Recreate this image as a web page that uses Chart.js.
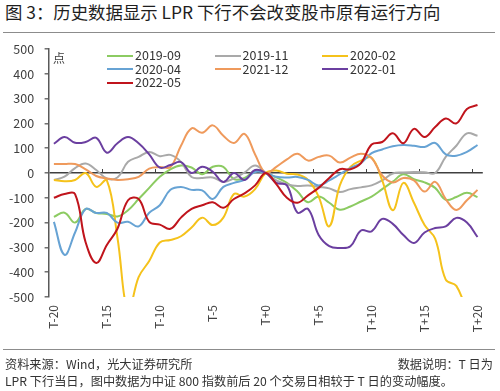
<!DOCTYPE html>
<html>
<head>
<meta charset="utf-8">
<script src="https://cdn.jsdelivr.net/npm/chart.js@4.4.1/dist/chart.umd.min.js"></script>
<style>
  html, body { margin: 0; padding: 0; background: #fff; }
  #wrap { position: relative; width: 500px; height: 391px; overflow: hidden;
          font-family: "Noto Sans CJK SC", "Noto Sans", sans-serif; color: #333; }
  #title { position: absolute; left: 5px; top: 0; font-size: 17.4px; line-height: 24px; color: #1e1e1e; white-space: nowrap; }
  .rule { position: absolute; left: 3px; width: 492px; height: 0; border-top: 1.5px solid #8c8c8c; }
  #chart { position: absolute; left: 0; top: 0; }
  #unit { position: absolute; left: 53px; top: 50px; font-size: 12px; line-height: 16px; color: #404040; }
  .leg { position: absolute; height: 14px; font-size: 12.5px; line-height: 14px; color: #333; white-space: nowrap; }
  .leg span { display: inline-block; width: 26px; height: 2px; vertical-align: middle; margin-right: 2px; position: relative; top: -1px; }
  .foot { position: absolute; font-size: 12.2px; line-height: 17px; color: #333; white-space: nowrap; }
</style>
</head>
<body>
<div id="wrap">
  <div id="title">图 3：历史数据显示 LPR 下行不会改变股市原有运行方向</div>
  <div class="rule" style="top:32px"></div>
  <canvas id="chart" width="500" height="391"></canvas>
  <div id="unit">点</div>
  <div id="legend"></div>
  <div class="rule" style="top:349px"></div>
  <div class="foot" style="left:5px; top:356px">资料来源：Wind，光大证券研究所</div>
  <div class="foot" style="right:7px; top:356px">数据说明：T 日为</div>
  <div class="foot" style="left:5px; top:373px">LPR 下行当日，图中数据为中证 800 指数前后 20 个交易日相较于 T 日的变动幅度。</div>
</div>
<script>
// DATA
const dayLabels = ['T-20','T-19','T-18','T-17','T-16','T-15','T-14','T-13','T-12','T-11',
  'T-10','T-9','T-8','T-7','T-6','T-5','T-4','T-3','T-2','T-1','T+0',
  'T+1','T+2','T+3','T+4','T+5','T+6','T+7','T+8','T+9','T+10',
  'T+11','T+12','T+13','T+14','T+15','T+16','T+17','T+18','T+19','T+20'];

const seriesNames = ['2019-09', '2019-11', '2020-02', '2020-04', '2021-12', '2022-01', '2022-05'];

const s201909 = [-177,-160,-200,-145,-161,-165,-175,-150,-105,-60,-15,15,30,22,-5,25,25,-25,-20,8,0,
  -18,-40,-75,-118,-95,-120,-148,-135,-115,-95,-65,-35,-5,-25,-38,-60,-108,-97,-80,-97];
const s201911 = [-28,-15,20,38,12,-22,-18,45,65,85,68,73,45,-16,-20,-18,-36,-22,2,30,0,
  -30,-45,-52,-50,-56,-62,-77,-65,-58,-50,-30,-2,2,4,3,0,65,110,160,150];
const s202002 = [-28,-33,-28,0,-56,-30,-260,-560,-420,-355,-280,-270,-255,-220,-180,-210,-180,-85,-95,-65,0,
  10,-3,-6,-28,-95,-215,-50,25,50,62,-30,-150,-40,-120,-210,-265,-430,-455,-560,null];
const s202004 = [-197,-330,-240,-145,-161,-161,-200,-197,-215,-160,-130,-68,-56,-68,-70,-105,-56,-40,-28,4,0,
  -15,-18,-16,-28,-50,-30,-5,20,40,80,95,108,113,110,105,121,75,70,85,113];
const s202112 = [36,36,36,15,-12,-22,-28,-25,-16,18,24,24,110,180,162,192,150,121,158,75,0,
  25,55,78,50,65,70,42,62,78,60,-10,-38,-20,-30,-75,-36,-105,-149,-110,-68];
const s202201 = [118,145,122,125,142,82,120,145,120,75,22,32,44,0,25,5,-36,0,-28,12,0,
  -40,-50,-160,-145,-250,-295,-302,-295,-232,-235,-185,-205,-250,-282,-240,-222,-215,-181,-200,-258];
const s202205 = [-100,-85,-85,-280,-363,-290,-225,-110,-105,-197,-208,-225,-180,-145,-130,-118,-140,-105,-82,-50,0,
  -45,-100,-120,-90,-60,-20,15,15,40,115,125,160,120,178,145,185,220,200,258,274];

const seriesData = [s201909, s201911, s202002, s202004, s202112, s202201, s202205];
const seriesColors = ['#8ccb62', '#a9a9a9', '#f5c21b', '#67a3d4', '#ef9a5c', '#6b3fa0', '#c0141c'];

const FONT = '"Noto Sans CJK SC", "Noto Sans", sans-serif';

// LEGEND (three columns, like the source)
const legendBox = document.getElementById('legend');
seriesNames.forEach((name, i) => {
  const el = document.createElement('div');
  el.className = 'leg';
  el.style.left = (107 + (i % 3) * 107.5) + 'px';
  el.style.top = (48 + Math.floor(i / 3) * 13.7) + 'px';
  el.innerHTML = '<span style="background:' + seriesColors[i] + '"></span>' + name;
  legendBox.appendChild(el);
});

// small tick marks on the zero line, one every 5 trading days
const zeroAxisTicks = {
  id: 'zeroAxisTicks',
  beforeDatasetsDraw(chart) {
    const {ctx, scales: {x, y}} = chart;
    const y0 = y.getPixelForValue(0);
    ctx.save();
    ctx.strokeStyle = '#404040';
    ctx.lineWidth = 1;
    for (let i = 5; i < dayLabels.length; i += 5) {
      const px = Math.round(x.getPixelForValue(i - 0.5)) + 0.5;
      ctx.beginPath();
      ctx.moveTo(px, y0);
      ctx.lineTo(px, y0 - 4);
      ctx.stroke();
    }
    ctx.restore();
  }
};

new Chart(document.getElementById('chart').getContext('2d'), {
  type: 'line',
  data: {
    labels: dayLabels,
    datasets: seriesNames.map((name, i) => ({
      label: name,
      data: seriesData[i],
      borderColor: seriesColors[i],
      backgroundColor: seriesColors[i],
      borderWidth: 2,
      pointRadius: 0,
      tension: 0.4,
      fill: false,
      order: seriesNames.length - 1 - i
    }))
  },
  options: {
    responsive: false,
    animation: false,
    devicePixelRatio: 1,
    layout: { padding: { left: 0, right: 8, top: 49, bottom: 49 } },
    plugins: {
      legend: { display: false },
      title: { display: false },
      tooltip: { enabled: false }
    },
    scales: {
      x: {
        type: 'category',
        offset: true,
        grid: { display: false, drawTicks: false, offset: true },
        border: { display: false },
        ticks: {
          autoSkip: false,
          minRotation: 90,
          maxRotation: 90,
          padding: 8,
          color: '#404040',
          font: { family: FONT, size: 12 },
          callback: function (v, i) { return i % 5 === 0 ? this.getLabelForValue(v) : ''; }
        },
        afterFit: (s) => { s.height = 45; }
      },
      y: {
        min: -500,
        max: 500,
        ticks: { stepSize: 100, padding: 10.5, color: '#404040', font: { family: FONT, size: 12.5 } },
        grid: {
          color: (c) => (c.tick && c.tick.value === 0 ? '#404040' : 'rgba(0,0,0,0)'),
          lineWidth: 1.6,
          drawTicks: true,
          tickLength: 4,
          tickColor: '#595959',
          tickWidth: 1.3
        },
        border: { display: true, color: '#595959', width: 1.5 },
        afterFit: (s) => { s.width = 48.6; }
      }
    }
  },
  plugins: [zeroAxisTicks]
});
</script>
</body>
</html>
